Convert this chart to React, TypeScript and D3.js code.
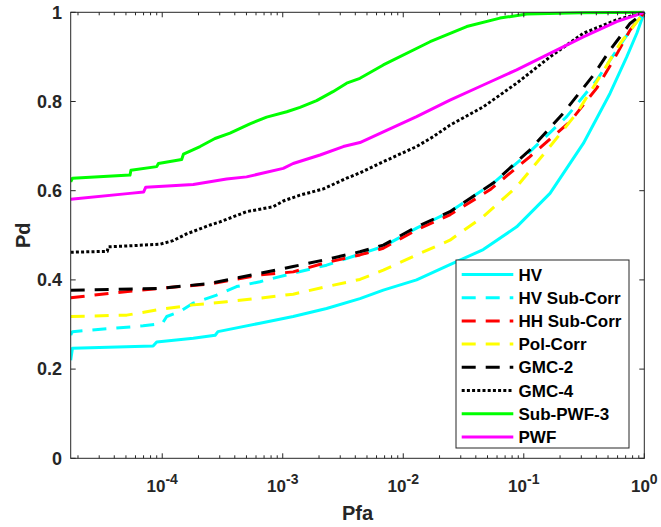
import React from "react";
import * as d3 from "d3";

// Detection curves: each series is a list of [Pfa, Pd] points.
const hv: [number, number][] = [
  [1.74e-5, 0.22], [1.8e-5, 0.247], [8.4e-5, 0.252], [9.0e-5, 0.261], [1.81e-4, 0.269],
  [2.75e-4, 0.276], [2.9e-4, 0.284], [6.47e-4, 0.303], [1.22e-3, 0.318], [2.31e-3, 0.336],
  [4.37e-3, 0.358], [6.83e-3, 0.377], [1.29e-2, 0.4], [2.44e-2, 0.434], [4.61e-2, 0.468],
  [8.73e-2, 0.519], [0.165, 0.594], [0.312, 0.706], [0.519, 0.818], [0.715, 0.9],
  [0.867, 0.953], [1, 1],
];
const hvSubCorr: [number, number][] = [
  [1.74e-5, 0.276], [1.8e-5, 0.284], [6.95e-5, 0.297], [1.0e-4, 0.302], [1.09e-4, 0.318],
  [1.4e-4, 0.329], [1.81e-4, 0.348], [2.83e-4, 0.366], [4.14e-4, 0.385], [6.47e-4, 0.396],
  [1.22e-3, 0.415], [2.31e-3, 0.433], [4.37e-3, 0.458], [6.83e-3, 0.475], [1.29e-2, 0.516],
  [2.44e-2, 0.553], [5.58e-2, 0.617], [0.112, 0.687], [0.227, 0.766], [0.403, 0.848],
  [0.59, 0.915], [0.8, 0.967], [1, 1],
];
const hhSubCorr: [number, number][] = [
  [1.74e-5, 0.36], [3.68e-5, 0.37], [9.6e-5, 0.381], [2.49e-4, 0.391], [6.47e-4, 0.411],
  [1.22e-3, 0.418], [2.31e-3, 0.439], [4.37e-3, 0.456], [6.83e-3, 0.471], [1.29e-2, 0.512],
  [2.44e-2, 0.546], [5.24e-2, 0.602], [0.112, 0.676], [0.242, 0.755], [0.403, 0.83],
  [0.553, 0.892], [0.762, 0.96], [1, 1],
];
const polCorr: [number, number][] = [
  [1.74e-5, 0.318], [5.07e-5, 0.321], [9.6e-5, 0.334], [1.81e-4, 0.344], [3.42e-4, 0.351],
  [6.47e-4, 0.359], [1.22e-3, 0.368], [2.31e-3, 0.385], [4.37e-3, 0.401], [6.83e-3, 0.422],
  [1.29e-2, 0.456], [2.44e-2, 0.489], [4.61e-2, 0.542], [8.73e-2, 0.609], [0.165, 0.699],
  [0.275, 0.774], [0.429, 0.856], [0.629, 0.93], [1, 1],
];
const gmc2: [number, number][] = [
  [1.74e-5, 0.377], [9.6e-5, 0.381], [2.49e-4, 0.392], [6.47e-4, 0.415], [1.22e-3, 0.43],
  [2.31e-3, 0.446], [4.37e-3, 0.463], [6.83e-3, 0.478], [1.29e-2, 0.519], [2.44e-2, 0.553],
  [5.58e-2, 0.617], [0.112, 0.691], [0.213, 0.774], [0.378, 0.859], [0.519, 0.915],
  [0.762, 0.975], [1, 1],
];
const gmc4: [number, number][] = [
  [1.74e-5, 0.462], [3.5e-5, 0.464], [3.56e-5, 0.474], [9.6e-5, 0.48], [1.23e-4, 0.488],
  [1.59e-4, 0.503], [2.49e-4, 0.523], [3.01e-4, 0.53], [5.01e-4, 0.553], [8.34e-4, 0.564],
  [1.01e-3, 0.577], [1.39e-3, 0.59], [2.17e-3, 0.604], [3.39e-3, 0.628], [4.37e-3, 0.64],
  [6.83e-3, 0.665], [1.29e-2, 0.699], [1.77e-2, 0.721], [2.44e-2, 0.747], [4.61e-2, 0.788],
  [8.73e-2, 0.841], [0.165, 0.9], [0.312, 0.953], [0.59, 0.983], [1, 1],
];
const subPwf3: [number, number][] = [
  [1.74e-5, 0.62], [1.8e-5, 0.628], [5.4e-5, 0.635], [5.5e-5, 0.646], [9.0e-5, 0.654],
  [9.3e-5, 0.661], [1.45e-4, 0.67], [1.5e-4, 0.682], [2.06e-4, 0.699], [2.74e-4, 0.717],
  [3.65e-4, 0.729], [5.34e-4, 0.75], [7.35e-4, 0.765], [1.08e-3, 0.777], [1.39e-3, 0.787],
  [1.91e-3, 0.802], [2.61e-3, 0.822], [3.39e-3, 0.841], [4.37e-3, 0.852], [6.83e-3, 0.882],
  [1.67e-2, 0.934], [3.36e-2, 0.968], [6.34e-2, 0.987], [0.106, 0.996], [0.3, 0.999], [1, 1],
];
const pwf: [number, number][] = [
  [1.74e-5, 0.581], [5.4e-5, 0.594], [7.0e-5, 0.597], [7.3e-5, 0.608], [1.81e-4, 0.614],
  [3.42e-4, 0.626], [5.01e-4, 0.631], [1.01e-3, 0.65], [1.22e-3, 0.661], [2.04e-3, 0.68],
  [3.18e-3, 0.699], [4.37e-3, 0.708], [6.83e-3, 0.732], [1.29e-2, 0.766], [2.44e-2, 0.803],
  [4.61e-2, 0.837], [8.73e-2, 0.871], [0.165, 0.908], [0.312, 0.945], [0.59, 0.979], [1, 1],
];

const seriesNames = ["HV", "HV Sub-Corr", "HH Sub-Corr", "Pol-Corr", "GMC-2", "GMC-4", "Sub-PWF-3", "PWF"];
const seriesData = [hv, hvSubCorr, hhSubCorr, polCorr, gmc2, gmc4, subPwf3, pwf];
const seriesColors = ["#00ffff", "#00ffff", "#ff0000", "#ffff00", "#000000", "#000000", "#00ff00", "#ff00ff"];
const seriesDash = ["", "14,10", "14,10", "14,10", "14,10", "3,2.2", "", ""];

const yTickValues = [0, 0.2, 0.4, 0.6, 0.8, 1];
const yTickLabels = ["0", "0.2", "0.4", "0.6", "0.8", "1"];
const xDecadeExponents = [-4, -3, -2, -1, 0];

const W = 661;
const H = 527;
const left = 70.7;
const right = 644.3;
const top = 12.3;
const bottom = 458.3;

const FONT = "'Liberation Sans', Arial, Helvetica, sans-serif";
const AXIS = "#262626";

export default function App() {
  const x = d3.scaleLog().domain([1.74e-5, 1]).range([left, right]);
  const y = d3.scaleLinear().domain([0, 1]).range([bottom, top]);

  const line = d3
    .line<[number, number]>()
    .x((d) => x(d[0]))
    .y((d) => y(d[1]));

  const [dMin, dMax] = x.domain();
  const minor: number[] = [];
  for (let e = -5; e <= -1; e++) {
    for (let k = 2; k <= 9; k++) {
      const v = k * Math.pow(10, e);
      if (v >= dMin && v <= dMax) minor.push(v);
    }
  }

  const majorLen = 5;
  const minorLen = 3;

  const legendX0 = 456;
  const legendX1 = 629;
  const legendY0 = 260;
  const legendY1 = 448;
  const rowY0 = 274.5;
  const rowStep = 23.2;

  return (
    <svg
      width={W}
      height={H}
      style={{ position: "absolute", left: 0, top: 0, background: "#fff" }}
      fontFamily={FONT}
    >
      <defs>
        <clipPath id="plotArea">
          <rect x={left} y={top - 2} width={right - left + 2} height={bottom - top + 2} />
        </clipPath>
      </defs>
      <rect x={0} y={0} width={W} height={H} fill="#fff" />

      {/* curves */}
      <g clipPath="url(#plotArea)">
        {seriesData.map((d, i) => (
          <path
            key={seriesNames[i]}
            d={line(d) || ""}
            fill="none"
            stroke={seriesColors[i]}
            strokeWidth={3}
            strokeDasharray={seriesDash[i] || undefined}
            strokeLinejoin="round"
          />
        ))}
      </g>

      {/* axes box */}
      <rect x={left} y={top} width={right - left} height={bottom - top} fill="none" stroke={AXIS} strokeWidth={1} />

      {/* x ticks (bottom and top) */}
      {xDecadeExponents.map((e) => {
        const xv = x(Math.pow(10, e));
        return (
          <g key={"xt" + e}>
            <line x1={xv} x2={xv} y1={bottom} y2={bottom - majorLen} stroke={AXIS} />
            <line x1={xv} x2={xv} y1={top} y2={top + majorLen} stroke={AXIS} />
            <text x={xv} y={492} textAnchor="middle" fontSize={17} fontWeight="bold" fill={AXIS}>
              <tspan>10</tspan>
              <tspan dy={-8} fontSize={14}>{String(e)}</tspan>
            </text>
          </g>
        );
      })}
      {minor.map((v, i) => {
        const xv = x(v);
        return (
          <g key={"xm" + i}>
            <line x1={xv} x2={xv} y1={bottom} y2={bottom - minorLen} stroke={AXIS} />
            <line x1={xv} x2={xv} y1={top} y2={top + minorLen} stroke={AXIS} />
          </g>
        );
      })}

      {/* y ticks (left and right) */}
      {yTickValues.map((v, i) => {
        const yv = y(v);
        return (
          <g key={"yt" + i}>
            <line x1={left} x2={left + majorLen} y1={yv} y2={yv} stroke={AXIS} />
            <line x1={right} x2={right - majorLen} y1={yv} y2={yv} stroke={AXIS} />
            <text x={62} y={yv} dy="0.35em" textAnchor="end" fontSize={18} fontWeight="bold" fill={AXIS}>
              {yTickLabels[i]}
            </text>
          </g>
        );
      })}

      {/* axis titles */}
      <text x={(left + right) / 2} y={520} textAnchor="middle" fontSize={20} fontWeight="bold" fill={AXIS}>
        Pfa
      </text>
      <text
        transform={`translate(30, ${(top + bottom) / 2}) rotate(-90)`}
        textAnchor="middle"
        fontSize={20}
        fontWeight="bold"
        fill={AXIS}
      >
        Pd
      </text>

      {/* legend */}
      <rect
        x={legendX0}
        y={legendY0}
        width={legendX1 - legendX0}
        height={legendY1 - legendY0}
        fill="#fff"
        stroke={AXIS}
        strokeWidth={1}
      />
      {seriesNames.map((name, i) => {
        const ry = rowY0 + i * rowStep;
        return (
          <g key={"lg" + name}>
            <line
              x1={461.7}
              x2={513.3}
              y1={ry}
              y2={ry}
              stroke={seriesColors[i]}
              strokeWidth={3}
              strokeDasharray={seriesDash[i] || undefined}
            />
            <text x={518.5} y={ry} dy="0.36em" fontSize={17} fontWeight="bold" fill="#000">
              {name}
            </text>
          </g>
        );
      })}
    </svg>
  );
}
